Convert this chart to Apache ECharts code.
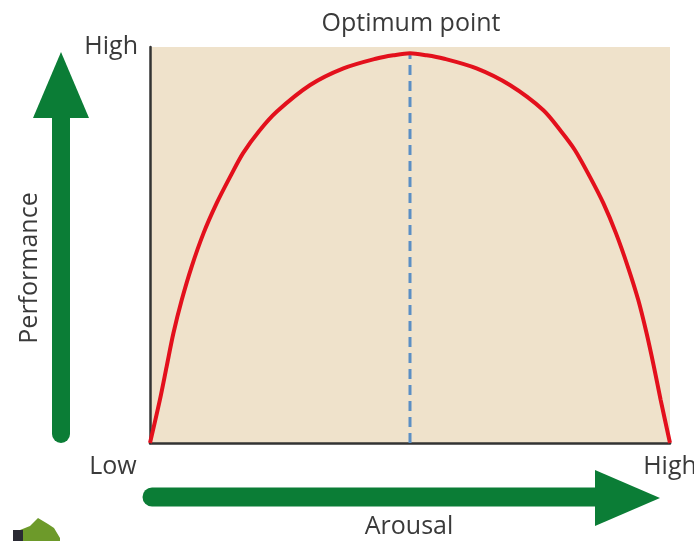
<!DOCTYPE html>
<html>
<head>
<meta charset="utf-8">
<script src="https://cdn.jsdelivr.net/npm/echarts@6/dist/echarts.min.js"></script>
<style>
  html, body { margin: 0; padding: 0; background: #fff; overflow: hidden; }
  #chart { width: 694px; height: 541px; }
</style>
</head>
<body>
<div id="chart"></div>
<script>
// arousal (0-100) vs performance (0-100)
const arousal = [0, 1.9, 3.2, 4.5, 6.1, 8, 10.3, 12.8, 15.4, 17.9, 21, 24.4, 30.8, 37.2, 43.6, 46.8, 50, 53.2, 56.4, 62.8, 69.2, 75.6, 79, 81.7, 84.6, 87.2, 89.6, 91.9, 93.9, 95.5, 96.9, 98.2, 100]
const performance = [0, 10.9, 19.3, 27.7, 36.1, 44.5, 53, 60.5, 67.2, 73.2, 78.8, 83.7, 90.4, 94.6, 97.1, 97.9, 98.4, 97.9, 97.1, 94.6, 90.4, 84.1, 78.8, 74, 67.2, 60.5, 53, 44.5, 36.1, 27.7, 19.3, 10.9, 0]
const optimumX = 50
const optimumLine = [[optimumX, 0], [optimumX, 98.4]]
const axisTicks = { low: 'Low', high: 'High' }
const titles = { top: 'Optimum point', y: 'Performance', x: 'Arousal' }

const green = '#0b7d36'
const textColor = '#3a3a3a'
const font = '"Open Sans", "DejaVu Sans", sans-serif'

const chart = echarts.init(document.getElementById('chart'), null, { width: 694, height: 541 })

chart.setOption({
  animation: false,
  grid: {
    left: 150,
    right: 24,
    top: 47,
    bottom: 98,
    outerBoundsMode: 'none',
    show: true,
    backgroundColor: '#efe2cb',
    borderWidth: 0
  },
  xAxis: {
    type: 'value',
    min: 0,
    max: 100,
    interval: 100,
    axisLine: { lineStyle: { color: '#333', width: 2.5 } },
    axisTick: { show: false },
    splitLine: { show: false },
    axisLabel: {
      margin: 11,
      fontSize: 25,
      fontFamily: font,
      color: textColor,
      formatter: v => (v === 100 ? axisTicks.high : '')
    }
  },
  yAxis: {
    type: 'value',
    min: 0,
    max: 100,
    interval: 100,
    axisLine: { show: true, lineStyle: { color: '#333', width: 2.5 } },
    axisTick: { show: false },
    splitLine: { show: false },
    axisLabel: {
      margin: 12,
      fontSize: 25,
      fontFamily: font,
      color: textColor,
      formatter: v => (v === 100 ? axisTicks.high : '')
    }
  },
  series: [
    {
      type: 'line',
      data: arousal.map((x, i) => [x, performance[i]]),
      smooth: 0.3,
      symbol: 'none',
      lineStyle: { color: '#e3101c', width: 4 },
      z: 3
    },
    {
      type: 'line',
      data: optimumLine,
      symbol: 'none',
      lineStyle: { color: '#5b8fc4', width: 3, type: [10, 6] },
      z: 2
    }
  ],
  graphic: [
    {
      type: 'text',
      x: 411,
      y: 24,
      style: { text: titles.top, fontSize: 25, fontFamily: font, fill: textColor, textAlign: 'center', textVerticalAlign: 'middle' }
    },
    {
      type: 'text',
      x: 113,
      y: 467,
      style: { text: axisTicks.low, fontSize: 25, fontFamily: font, fill: textColor, textAlign: 'center', textVerticalAlign: 'middle' }
    },
    {
      type: 'text',
      x: 30,
      y: 268,
      rotation: Math.PI / 2,
      style: { text: titles.y, fontSize: 25, fontFamily: font, fill: textColor, textAlign: 'center', textVerticalAlign: 'middle' }
    },
    {
      type: 'text',
      x: 409,
      y: 527,
      style: { text: titles.x, fontSize: 25, fontFamily: font, fill: textColor, textAlign: 'center', textVerticalAlign: 'middle' }
    },
    // vertical green arrow
    {
      type: 'line',
      shape: { x1: 61, y1: 434, x2: 61, y2: 110 },
      style: { stroke: green, lineWidth: 18, lineCap: 'round' }
    },
    {
      type: 'polygon',
      shape: { points: [[33, 118], [89, 118], [61, 52]] },
      style: { fill: green }
    },
    // horizontal green arrow
    {
      type: 'line',
      shape: { x1: 152, y1: 497, x2: 602, y2: 497 },
      style: { stroke: green, lineWidth: 19, lineCap: 'round' }
    },
    {
      type: 'polygon',
      shape: { points: [[595, 470], [595, 526], [660, 498]] },
      style: { fill: green }
    },
    // little logo fragment in the corner
    {
      type: 'polygon',
      shape: { points: [[14, 540], [20, 530], [30, 526], [38, 518], [48, 524], [54, 528], [60, 538], [60, 541], [14, 541]] },
      style: { fill: '#6d9a2a' }
    },
    {
      type: 'rect',
      shape: { x: 13, y: 530, width: 10, height: 11 },
      style: { fill: '#2a2a33' }
    }
  ]
})
</script>
</body>
</html>
